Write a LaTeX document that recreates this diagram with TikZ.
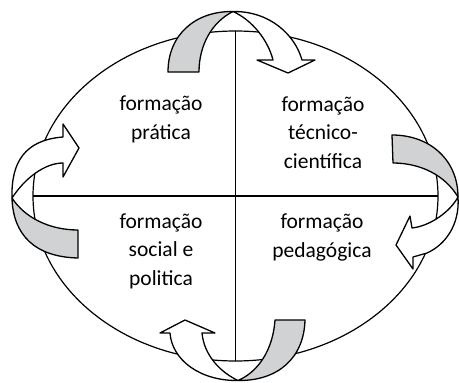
\documentclass[tikz,border=0pt]{standalone}
\usepackage{fontspec}
\setmainfont{Carlito}
\definecolor{ribbongray}{RGB}{208,210,211}
\tikzset{
  outline/.style={line width=1.3pt, line join=round, draw=black},
  frontband/.style={outline, fill=white},
  backband/.style={outline, fill=ribbongray},
  axisline/.style={line width=1.2pt, draw=black},
  label/.style={font=\fontsize{21.5}{28.5}\selectfont, align=center, inner sep=0pt, anchor=base}
}
\begin{document}
\begin{tikzpicture}[x=1pt,y=-1pt]
\useasboundingbox (0,0) rectangle (459,383);
% ellipse and axes
\coordinate (C) at (235.5,196);
\coordinate (Etop) at (235.5,31);
\coordinate (Ebottom) at (235.5,361);
\coordinate (Eleft) at (33,196);
\coordinate (Eright) at (438,196);
\draw[axisline] (C) ellipse [x radius=202.5, y radius=165];
\draw[axisline] (Etop) -- (Ebottom);
\draw[axisline] (Eleft) -- (Eright);
% top arrow
\filldraw[backband] (168,72) .. controls (168,35) and (195,11) .. (233,11.5)
  .. controls (212,22) and (199,45) .. (199,72) -- cycle;
\filldraw[frontband] (233,11.5) .. controls (270,11) and (295,35) .. (302,60)
  -- (315,60) -- (288,73) -- (257,60) -- (273,60)
  .. controls (268,40) and (252,20) .. (233,11.5) -- cycle;
% left arrow
\filldraw[frontband] (12,198) .. controls (11,162) and (25,140) .. (63,137)
  -- (63,124) -- (79,148) -- (63,177) -- (63,163)
  .. controls (45,163) and (25,178) .. (12,198) -- cycle;
\filldraw[backband] (12,198) .. controls (13,235) and (35,257) .. (78,258)
  -- (78,230) .. controls (50,230) and (25,218) .. (12,198) -- cycle;
% right arrow
\filldraw[backband] (392,135) .. controls (430,135) and (458,160) .. (458,197)
  .. controls (445,175) and (420,163) .. (393,163) -- cycle;
\filldraw[frontband] (458,197) .. controls (460,225) and (445,245) .. (427,253)
  -- (413,257) -- (413,269) -- (396,245) -- (410,216) -- (412,228)
  .. controls (430,226) and (450,212) .. (458,197) -- cycle;
% bottom arrow
\filldraw[frontband] (238,380.5) .. controls (200,381) and (172,360) .. (170,333)
  -- (160,333) -- (185,320) -- (215,333) -- (202,333)
  .. controls (204,355) and (220,372) .. (238,380.5) -- cycle;
\filldraw[backband] (238,380.5) .. controls (278,381) and (304,358) .. (305,320)
  -- (275,320) .. controls (273,350) and (258,372) .. (238,380.5) -- cycle;
% labels (anchor at baseline of last line)
\node[label] (tl) at (161,139) {formação\\prática};
\node[label] (tr) at (323,168) {formação\\técnico-\\científica};
\node[label] (bl) at (161,285) {formação\\social e\\politica};
\node[label] (br) at (322,257) {formação\\pedagógica};
\end{tikzpicture}
\end{document}
